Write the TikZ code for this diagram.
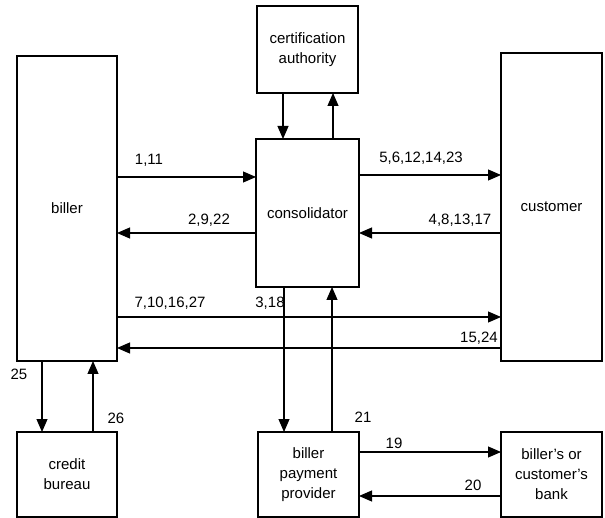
\documentclass[tikz,border=0pt]{standalone}
\usepackage{fontspec}
\setmainfont{Liberation Sans}
\usetikzlibrary{arrows.meta}
\begin{document}
\begin{tikzpicture}[x=1pt,y=-1pt,
  box/.style={draw, line width=1.1pt, inner sep=0pt, outer sep=0pt, align=center,
              font=\fontsize{15}{20}\selectfont},
  arr/.style={line width=1.1pt, -{Triangle[length=13pt,width=11pt]}},
  lbl/.style={font=\fontsize{15}{18}\selectfont, inner sep=0pt}]
\useasboundingbox[fill=white] (0,0) rectangle (605,518);

% parties
\node[box, minimum width=100pt, minimum height=305pt] (biller) at (67,208.5) {biller};
\node[box, minimum width=101pt, minimum height=308pt] (customer) at (551.5,207) {customer};
\node[box, minimum width=101pt, minimum height=87pt] (cert) at (307.5,49.5) {certification\\authority};
\node[box, minimum width=103pt, minimum height=148pt] (cons) at (307.5,213) {consolidator};
\node[box, minimum width=100pt, minimum height=85pt] (credit) at (67,474.5) {credit\\bureau};
\node[box, minimum width=101pt, minimum height=85pt] (bpp) at (308.5,474.5) {biller\\payment\\provider};
\node[box, minimum width=101pt, minimum height=85pt] (bank) at (551.5,474.5) {biller's or\\customer's\\bank};

% consolidator and certification authority
\draw[arr] (cert.south -| 283,0) -- (cons.north -| 283,0);
\draw[arr] (cons.north -| 333,0) -- (cert.south -| 333,0);

% biller and consolidator
\draw[arr] (biller.east |- 0,177) -- (cons.west |- 0,177);
\draw[arr] (cons.west |- 0,233) -- (biller.east |- 0,233);

% consolidator and customer
\draw[arr] (cons.east |- 0,175) -- (customer.west |- 0,175);
\draw[arr] (customer.west |- 0,233) -- (cons.east |- 0,233);

% biller and customer
\draw[arr] (biller.east |- 0,317) -- (customer.west |- 0,317);
\draw[arr] (customer.west |- 0,348) -- (biller.east |- 0,348);

% consolidator and biller payment provider
\draw[arr] (cons.south -| 284,0) -- (bpp.north -| 284,0);
\draw[arr] (bpp.north -| 332,0) -- (cons.south -| 332,0);

% biller and credit bureau
\draw[arr] (biller.south -| 42,0) -- (credit.north -| 42,0);
\draw[arr] (credit.north -| 93,0) -- (biller.south -| 93,0);

% biller payment provider and bank
\draw[arr] (bpp.east |- 0,452) -- (bank.west |- 0,452);
\draw[arr] (bank.west |- 0,496) -- (bpp.east |- 0,496);

% message numbers
\node[lbl] (l1) at (149,160) {1,11};
\node[lbl] (l2) at (209,220) {2,9,22};
\node[lbl] (l3) at (421,158) {5,6,12,14,23};
\node[lbl] (l4) at (460,220) {4,8,13,17};
\node[lbl] (l5) at (170,303) {7,10,16,27};
\node[lbl] (l6) at (270,303) {3,18};
\node[lbl] (l7) at (479,338) {15,24};
\node[lbl] (l8) at (19,374) {25};
\node[lbl] (l9) at (116,418) {26};
\node[lbl] (l10) at (363,417) {21};
\node[lbl] (l11) at (394,443) {19};
\node[lbl] (l12) at (473,485) {20};
\end{tikzpicture}
\end{document}
